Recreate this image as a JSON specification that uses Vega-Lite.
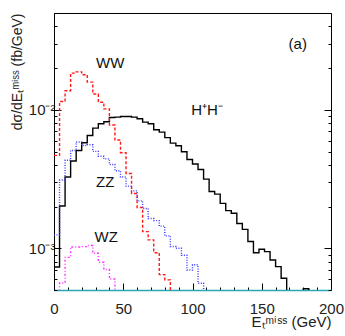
{
  "$schema": "https://vega.github.io/schema/vega-lite/v6.json",
  "width": 277,
  "height": 277,
  "autosize": {"type": "none"},
  "padding": {"left": 54, "top": 13, "right": 14, "bottom": 46},
  "background": "white",
  "config": {
    "view": {"stroke": "black", "strokeWidth": 1},
    "font": "Liberation Sans",
    "axis": {"labelFont": "Liberation Sans", "titleFont": "Liberation Sans", "labelColor": "#222", "titleColor": "#222", "titleFontWeight": "normal", "grid": false, "tickColor": "black", "domainColor": "black", "labelOverlap": false}
  },
  "datasets": {
    "hist": [
      {"proc": "HH", "x": 0, "y": 0.000733}, {"proc": "HH", "x": 4, "y": 0.00202}, {"proc": "HH", "x": 8, "y": 0.00327}, {"proc": "HH", "x": 12, "y": 0.00427},
      {"proc": "HH", "x": 16, "y": 0.00509}, {"proc": "HH", "x": 20, "y": 0.00579}, {"proc": "HH", "x": 24, "y": 0.00653}, {"proc": "HH", "x": 28, "y": 0.00738},
      {"proc": "HH", "x": 32, "y": 0.00793}, {"proc": "HH", "x": 36, "y": 0.0082}, {"proc": "HH", "x": 40, "y": 0.00881}, {"proc": "HH", "x": 44, "y": 0.00885},
      {"proc": "HH", "x": 48, "y": 0.00895}, {"proc": "HH", "x": 52, "y": 0.00895}, {"proc": "HH", "x": 56, "y": 0.00885}, {"proc": "HH", "x": 60, "y": 0.00861},
      {"proc": "HH", "x": 64, "y": 0.00815}, {"proc": "HH", "x": 68, "y": 0.00793}, {"proc": "HH", "x": 72, "y": 0.00718}, {"proc": "HH", "x": 76, "y": 0.0069},
      {"proc": "HH", "x": 80, "y": 0.0063}, {"proc": "HH", "x": 84, "y": 0.00575}, {"proc": "HH", "x": 88, "y": 0.0055}, {"proc": "HH", "x": 92, "y": 0.00498},
      {"proc": "HH", "x": 96, "y": 0.00438}, {"proc": "HH", "x": 100, "y": 0.00406}, {"proc": "HH", "x": 104, "y": 0.00371}, {"proc": "HH", "x": 108, "y": 0.00316},
      {"proc": "HH", "x": 112, "y": 0.00257}, {"proc": "HH", "x": 116, "y": 0.00246}, {"proc": "HH", "x": 120, "y": 0.00211}, {"proc": "HH", "x": 124, "y": 0.00187},
      {"proc": "HH", "x": 128, "y": 0.00179}, {"proc": "HH", "x": 132, "y": 0.00151}, {"proc": "HH", "x": 136, "y": 0.00137}, {"proc": "HH", "x": 140, "y": 0.00112},
      {"proc": "HH", "x": 144, "y": 0.000929}, {"proc": "HH", "x": 148, "y": 0.000984}, {"proc": "HH", "x": 152, "y": 0.000946}, {"proc": "HH", "x": 156, "y": 0.000824},
      {"proc": "HH", "x": 160, "y": 0.000738}, {"proc": "HH", "x": 164, "y": 0.000608}, {"proc": "HH", "x": 168, "y": 0.0003}, {"proc": "HH", "x": 172, "y": 0.0003},
      {"proc": "HH", "x": 176, "y": 0.0003}, {"proc": "HH", "x": 180, "y": 0.00051}, {"proc": "HH", "x": 184, "y": 0.0003}, {"proc": "HH", "x": 188, "y": 0.0003},
      {"proc": "HH", "x": 192, "y": 0.0003}, {"proc": "HH", "x": 196, "y": 0.0003}, {"proc": "HH", "x": 200, "y": 0.0003},
      {"proc": "WW", "x": 0, "y": 0.00469}, {"proc": "WW", "x": 4, "y": 0.01148}, {"proc": "WW", "x": 8, "y": 0.01374}, {"proc": "WW", "x": 12, "y": 0.0184},
      {"proc": "WW", "x": 16, "y": 0.0188}, {"proc": "WW", "x": 20, "y": 0.0179}, {"proc": "WW", "x": 24, "y": 0.01585}, {"proc": "WW", "x": 28, "y": 0.013},
      {"proc": "WW", "x": 32, "y": 0.01135}, {"proc": "WW", "x": 36, "y": 0.01016}, {"proc": "WW", "x": 40, "y": 0.00776}, {"proc": "WW", "x": 44, "y": 0.00605},
      {"proc": "WW", "x": 48, "y": 0.0049}, {"proc": "WW", "x": 52, "y": 0.00347}, {"proc": "WW", "x": 56, "y": 0.00249}, {"proc": "WW", "x": 60, "y": 0.00197},
      {"proc": "WW", "x": 64, "y": 0.00132}, {"proc": "WW", "x": 68, "y": 0.00115}, {"proc": "WW", "x": 72, "y": 0.000929}, {"proc": "WW", "x": 76, "y": 0.000646},
      {"proc": "WW", "x": 80, "y": 0.000592}, {"proc": "WW", "x": 84, "y": 0.0003}, {"proc": "WW", "x": 88, "y": 0.0003},
      {"proc": "ZZ", "x": 0, "y": 0.00125}, {"proc": "ZZ", "x": 4, "y": 0.00311}, {"proc": "ZZ", "x": 8, "y": 0.00432}, {"proc": "ZZ", "x": 12, "y": 0.00509},
      {"proc": "ZZ", "x": 16, "y": 0.00585}, {"proc": "ZZ", "x": 20, "y": 0.00553}, {"proc": "ZZ", "x": 24, "y": 0.0056}, {"proc": "ZZ", "x": 28, "y": 0.00501},
      {"proc": "ZZ", "x": 32, "y": 0.00462}, {"proc": "ZZ", "x": 36, "y": 0.00442}, {"proc": "ZZ", "x": 40, "y": 0.00403}, {"proc": "ZZ", "x": 44, "y": 0.00363},
      {"proc": "ZZ", "x": 48, "y": 0.00327}, {"proc": "ZZ", "x": 52, "y": 0.00281}, {"proc": "ZZ", "x": 56, "y": 0.0026}, {"proc": "ZZ", "x": 60, "y": 0.0022},
      {"proc": "ZZ", "x": 64, "y": 0.00194}, {"proc": "ZZ", "x": 68, "y": 0.00164}, {"proc": "ZZ", "x": 72, "y": 0.001585}, {"proc": "ZZ", "x": 76, "y": 0.001445},
      {"proc": "ZZ", "x": 80, "y": 0.00123}, {"proc": "ZZ", "x": 84, "y": 0.00103}, {"proc": "ZZ", "x": 88, "y": 0.001}, {"proc": "ZZ", "x": 92, "y": 0.00089},
      {"proc": "ZZ", "x": 96, "y": 0.000698}, {"proc": "ZZ", "x": 100, "y": 0.00076}, {"proc": "ZZ", "x": 104, "y": 0.00056}, {"proc": "ZZ", "x": 108, "y": 0.0003},
      {"proc": "ZZ", "x": 112, "y": 0.0003},
      {"proc": "WZ", "x": 0, "y": 0.0003}, {"proc": "WZ", "x": 4, "y": 0.000562}, {"proc": "WZ", "x": 8, "y": 0.00086}, {"proc": "WZ", "x": 12, "y": 0.001023},
      {"proc": "WZ", "x": 16, "y": 0.001023}, {"proc": "WZ", "x": 20, "y": 0.001028}, {"proc": "WZ", "x": 24, "y": 0.001047}, {"proc": "WZ", "x": 28, "y": 0.00092},
      {"proc": "WZ", "x": 32, "y": 0.000794}, {"proc": "WZ", "x": 36, "y": 0.000703}, {"proc": "WZ", "x": 40, "y": 0.0006}, {"proc": "WZ", "x": 44, "y": 0.0003},
      {"proc": "WZ", "x": 48, "y": 0.0003}
    ],
    "labels": [
      {"x": 176, "y": 0.030, "text": "(a)"},
      {"x": 40.6, "y": 0.0219, "text": "WW"},
      {"x": 110.5, "y": 0.0099, "text": "H⁺H⁻"},
      {"x": 37, "y": 0.0030, "text": "ZZ"},
      {"x": 37.7, "y": 0.0012, "text": "WZ"}
    ]
  },
  "layer": [
    {
      "data": {"name": "hist"},
      "mark": {"type": "line", "interpolate": "step-after", "clip": true, "strokeWidth": 1.4},
      "encoding": {
        "x": {"field": "x", "type": "quantitative",
          "scale": {"domain": [0, 200], "nice": false, "zero": false},
          "axis": {"values": [0,10,20,30,40,50,60,70,80,90,100,110,120,130,140,150,160,170,180,190,200],
            "labelExpr": "(datum.value == 0 || datum.value == 50 || datum.value == 100 || datum.value == 150 || datum.value == 200) ? datum.label : ''",
            "labelOverlap": false, "labelBound": false,
            "tickSize": {"condition": {"test": "datum.value % 50 == 0", "value": -7}, "value": -3},
            "labelPadding": 18, "labelFontSize": 15, "labelFlush": false,
            "domainColor": "#2aa9b3", "domainWidth": 1.5,
            "title": "Eₜᵐⁱˢˢ (GeV)", "titleFontSize": 15, "titleAnchor": "end",
            "titleBaseline": "alphabetic", "titleY": 36}},
        "y": {"field": "y", "type": "quantitative",
          "scale": {"type": "log", "domain": [0.0005, 0.05], "nice": false},
          "axis": {"orient": "left",
            "values": [0.0005,0.0006,0.0007,0.0008,0.0009,0.001,0.002,0.003,0.004,0.005,0.006,0.007,0.008,0.009,0.01,0.02,0.03,0.04,0.05],
            "labelExpr": "datum.value == 0.01 ? '10⁻²' : (datum.value == 0.001 ? '10⁻³' : '')",
            "labelOverlap": false, "labelBound": false,
            "tickSize": {"condition": {"test": "datum.value == 0.01 || datum.value == 0.001", "value": -7}, "value": -3},
            "labelPadding": 6, "labelFontSize": 15, "labelFlush": false,
            "title": "dσ/dEₜᵐⁱˢˢ (fb/GeV)", "titleFontSize": 14, "titleAnchor": "end", "titlePadding": 4}},
        "color": {"field": "proc", "type": "nominal", "legend": null,
          "scale": {"domain": ["HH", "WW", "ZZ", "WZ"], "range": ["#000000", "#ff1a1a", "#3a3aff", "#ff33ff"]}},
        "strokeDash": {"field": "proc", "type": "nominal", "legend": null,
          "scale": {"domain": ["HH", "WW", "ZZ", "WZ"], "range": [[1, 0], [3, 2], [1, 1.5], [2, 2, 1, 2]]}}
      }
    },
    {
      "data": {"name": "labels"},
      "mark": {"type": "text", "fontSize": 15, "font": "Liberation Sans", "color": "#111"},
      "encoding": {
        "x": {"field": "x", "type": "quantitative",
          "axis": {"values": [0,10,20,30,40,50,60,70,80,90,100,110,120,130,140,150,160,170,180,190,200],
            "labelExpr": "(datum.value == 0 || datum.value == 50 || datum.value == 100 || datum.value == 150 || datum.value == 200) ? datum.label : ''",
            "labelOverlap": false, "labelBound": false,
            "tickSize": {"condition": {"test": "datum.value % 50 == 0", "value": -7}, "value": -3},
            "labelPadding": 18, "labelFontSize": 15, "labelFlush": false,
            "domainColor": "#2aa9b3", "domainWidth": 1.5,
            "title": "Eₜᵐⁱˢˢ (GeV)", "titleFontSize": 15, "titleAnchor": "end",
            "titleBaseline": "alphabetic", "titleY": 36}},
        "y": {"field": "y", "type": "quantitative",
          "axis": {"orient": "right",
            "values": [0.0005,0.0006,0.0007,0.0008,0.0009,0.001,0.002,0.003,0.004,0.005,0.006,0.007,0.008,0.009,0.01,0.02,0.03,0.04,0.05],
            "labels": false, "title": null, "domain": false,
            "tickSize": {"condition": {"test": "datum.value == 0.01 || datum.value == 0.001", "value": -7}, "value": -3}}},
        "text": {"field": "text"}
      }
    }
  ],
  "resolve": {"axis": {"y": "independent"}}
}
